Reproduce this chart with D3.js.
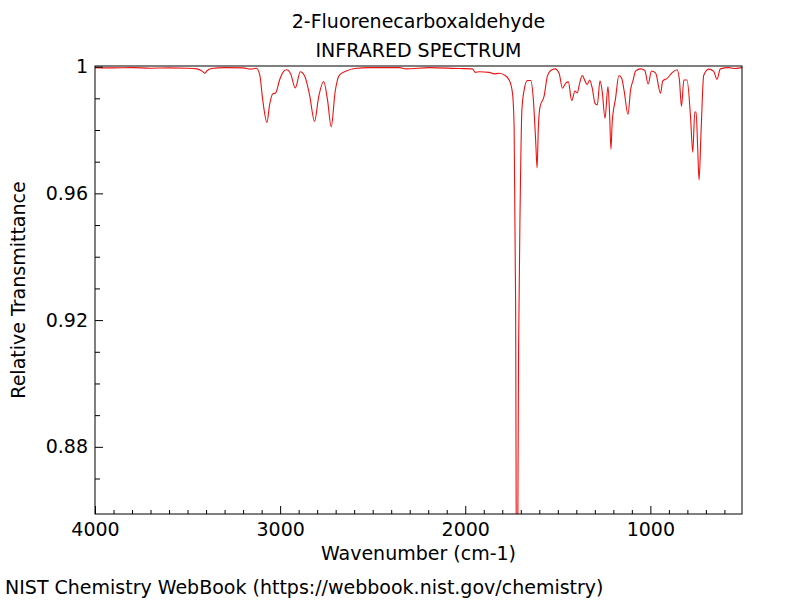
<!DOCTYPE html>
<html>
<head>
<meta charset="utf-8">
<script src="https://cdn.jsdelivr.net/npm/d3@7"></script>
<style>
  html, body { margin: 0; padding: 0; background: #fff; }
  svg { display: block; font-family: "DejaVu Sans", sans-serif; }
</style>
</head>
<body>
<svg id="chart" width="800" height="600"></svg>
<script>
const titleLines = ["2-Fluorenecarboxaldehyde", "INFRARED SPECTRUM"];
const xLabel = "Wavenumber (cm-1)";
const yLabel = "Relative Transmittance";
const footer = "NIST Chemistry WebBook (https://webbook.nist.gov/chemistry)";

const xMajorTicks = [4000, 3000, 2000, 1000];
const yMajorTicks = [0.88, 0.92, 0.96, 1];

const wavenumber = [
  4000, 3900, 3800, 3700, 3600, 3500, 3450, 3420, 3407, 3395, 3370, 3300, 3200, 3160,
  3128, 3110, 3094, 3071, 3057, 3040, 3024, 3003, 2981, 2965, 2943, 2918, 2891, 2868,
  2841, 2814, 2792, 2765, 2744, 2724, 2703, 2679, 2643, 2598, 2517, 2356, 2320, 2194,
  2032, 1962, 1946, 1924, 1871, 1844, 1817, 1790, 1763, 1745, 1736, 1728, 1721, 1712,
  1703, 1694, 1682, 1664, 1646, 1632, 1619, 1612, 1605, 1596, 1574, 1556, 1538, 1515,
  1493, 1475, 1457, 1443, 1425, 1407, 1395, 1382, 1368, 1353, 1341, 1328, 1314, 1299,
  1287, 1272, 1260, 1245, 1229, 1220, 1213, 1206, 1188, 1170, 1155, 1141, 1121, 1107,
  1093, 1080, 1053, 1030, 1012, 994, 972, 945, 933, 909, 882, 856, 843, 832, 819, 802,
  783, 771, 760, 753, 744, 737, 726, 712, 685, 658, 640, 622, 577, 550, 505
];
const transmittance = [
  0.9997, 0.9996, 0.9997, 0.9995, 0.9996, 0.9995, 0.9993, 0.9985, 0.9979, 0.9987, 0.9994, 0.9997, 0.9996, 0.9992,
  0.9995, 0.9974, 0.9895, 0.9824, 0.9879, 0.9914, 0.9917, 0.9958, 0.9985, 0.9990, 0.9977, 0.9933, 0.9984, 0.9971,
  0.9911, 0.9827, 0.9904, 0.9953, 0.9895, 0.9810, 0.9920, 0.9974, 0.9986, 0.9994, 0.9997, 0.9997, 0.9993, 0.9997,
  0.9994, 0.9993, 0.9982, 0.9984, 0.9982, 0.9977, 0.9979, 0.9974, 0.9958, 0.9917, 0.9810, 0.9260, 0.8000, 0.9100,
  0.9580, 0.9863, 0.9926, 0.9956, 0.9956, 0.9895, 0.9759, 0.9680, 0.9810, 0.9873, 0.9907, 0.9971, 0.9988, 0.9993,
  0.9979, 0.9932, 0.9948, 0.9952, 0.9893, 0.9923, 0.9917, 0.9948, 0.9972, 0.9955, 0.9944, 0.9958, 0.9932, 0.9884,
  0.9879, 0.9955, 0.9921, 0.9837, 0.9937, 0.9847, 0.9739, 0.9826, 0.9900, 0.9972, 0.9963, 0.9921, 0.9849, 0.9926,
  0.9958, 0.9986, 0.9993, 0.9988, 0.9945, 0.9986, 0.9980, 0.9916, 0.9955, 0.9963, 0.9981, 0.9990, 0.9958, 0.9874, 0.9958, 0.9958,
  0.9841, 0.9730, 0.9857, 0.9857, 0.9737, 0.9642, 0.9797, 0.9972, 0.9992, 0.9985, 0.9960, 0.9993, 0.9997, 0.9994, 0.9997
];

const data = wavenumber.map((w, i) => ({ w, t: transmittance[i] }));

const svg = d3.select("#chart");
const plotLeft = 95, plotRight = 742, plotTop = 66, plotBottom = 514;
const FS = 19;

const x = d3.scaleLinear().domain([4000, 505]).range([plotLeft, plotRight]);
const y = d3.scaleLinear().domain([0.8588, 1.0002]).range([plotBottom, plotTop]);

svg.append("defs").append("clipPath").attr("id", "plotclip")
  .append("rect").attr("x", plotLeft).attr("y", plotTop)
  .attr("width", plotRight - plotLeft).attr("height", plotBottom - plotTop);

const line = d3.line().x(d => x(d.w)).y(d => y(d.t)).curve(d3.curveMonotoneX);
svg.append("path")
  .datum(data)
  .attr("clip-path", "url(#plotclip)")
  .attr("fill", "none")
  .attr("stroke", "#ee1111")
  .attr("stroke-width", 1.1)
  .attr("d", line);

svg.append("rect")
  .attr("x", plotLeft).attr("y", plotTop)
  .attr("width", plotRight - plotLeft).attr("height", plotBottom - plotTop)
  .attr("fill", "none").attr("stroke", "#000").attr("stroke-width", 1);

const xMinor = d3.range(3900, 505, -100).filter(v => !xMajorTicks.includes(v));
const gx = svg.append("g").attr("transform", `translate(0,${plotBottom})`)
  .call(d3.axisBottom(x).tickValues(xMajorTicks).tickSize(-8).tickPadding(9).tickFormat(d3.format("d")));
gx.select(".domain").remove();
gx.selectAll("text").attr("font-size", FS).attr("font-family", "DejaVu Sans, sans-serif").attr("fill", "#000");
const gxm = svg.append("g").attr("transform", `translate(0,${plotBottom})`)
  .call(d3.axisBottom(x).tickValues(xMinor).tickSize(-4).tickFormat(""));
gxm.select(".domain").remove();

const yMinor = [0.87, 0.89, 0.90, 0.91, 0.93, 0.94, 0.95, 0.97, 0.98, 0.99];
const gy = svg.append("g").attr("transform", `translate(${plotLeft},0)`)
  .call(d3.axisLeft(y).tickValues(yMajorTicks).tickSize(-8).tickPadding(7)
    .tickFormat(d => d === 1 ? "1" : d3.format(".2f")(d)));
gy.select(".domain").remove();
gy.selectAll("text").attr("font-size", FS).attr("font-family", "DejaVu Sans, sans-serif").attr("fill", "#000");
const gym = svg.append("g").attr("transform", `translate(${plotLeft},0)`)
  .call(d3.axisLeft(y).tickValues(yMinor).tickSize(-5).tickFormat(""));
gym.select(".domain").remove();

svg.selectAll(".tick line").attr("stroke", "#000");

const cx = (plotLeft + plotRight) / 2;
svg.append("text").attr("x", cx).attr("y", 28).attr("text-anchor", "middle").attr("font-size", FS).text(titleLines[0]);
svg.append("text").attr("x", cx).attr("y", 57).attr("text-anchor", "middle").attr("font-size", FS).text(titleLines[1]);

svg.append("text").attr("x", cx).attr("y", 560).attr("text-anchor", "middle").attr("font-size", FS).text(xLabel);
svg.append("text").attr("transform", `translate(25,${(plotTop + plotBottom) / 2}) rotate(-90)`)
  .attr("text-anchor", "middle").attr("font-size", FS).text(yLabel);

svg.append("text").attr("x", 5).attr("y", 594).attr("font-size", FS).text(footer);
</script>
</body>
</html>
